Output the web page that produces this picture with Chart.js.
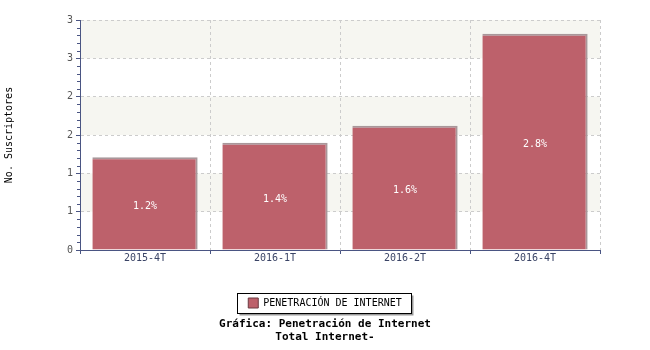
<!DOCTYPE html>
<html>
<head>
<meta charset="utf-8">
<script src="https://cdn.jsdelivr.net/npm/chart.js@4/dist/chart.umd.min.js"></script>
<style>
  html, body { margin: 0; padding: 0; background: #fff; }
  #wrap { width: 650px; height: 350px; position: relative; }
</style>
</head>
<body>
<div id="wrap"><canvas id="c" width="650" height="350"></canvas></div>
<script>
const categories = ['2015-4T', '2016-1T', '2016-2T', '2016-4T'];
const seriesName = 'PENETRACIÓN DE INTERNET';
const seriesValues = [1.21, 1.40, 1.62, 2.82];
const barLabels = ['1.2%', '1.4%', '1.6%', '2.8%'];
const yTickLabels = ['0', '1', '1', '2', '2', '3', '3'];
const yAxisTitle = 'No. Suscriptores';
const chartTitle = ['Gráfica: Penetración de Internet', 'Total Internet-'];

const MONO = '"DejaVu Sans Mono", "Liberation Mono", monospace';
const AXIS = '#4a5583';
const BAR = '#bd616b';

const decor = {
  id: 'decor',
  beforeDraw(chart) {
    const ctx = chart.ctx, a = chart.chartArea, y = chart.scales.y;
    ctx.save();
    ctx.fillStyle = '#f6f6f1';
    for (let v = 0.5; v < 3; v += 1) {
      const t = y.getPixelForValue(v + 0.5), b = y.getPixelForValue(v);
      ctx.fillRect(a.left, t, a.right - a.left, b - t);
    }
    const hb = chart.legend && chart.legend.legendHitBoxes && chart.legend.legendHitBoxes[0];
    if (hb) {
      const x = Math.round(hb.left - 11) + 0.5, yy = Math.round(hb.top - 5) + 0.5;
      const w = Math.round(hb.width + 21), h = Math.round(hb.height + 10);
      ctx.fillStyle = '#9a9a9a';
      ctx.fillRect(x + 2, yy + 2, w, h);
      ctx.fillStyle = '#ffffff';
      ctx.fillRect(x, yy, w, h);
      ctx.strokeStyle = '#000000';
      ctx.lineWidth = 1;
      ctx.strokeRect(x, yy, w, h);
    }
    ctx.restore();
  },
  afterDatasetsDraw(chart) {
    const ctx = chart.ctx;
    const meta = chart.getDatasetMeta(0);
    ctx.save();
    ctx.fillStyle = '#ffffff';
    ctx.font = '10px ' + MONO;
    ctx.textAlign = 'center';
    ctx.textBaseline = 'middle';
    meta.data.forEach((bar, i) => {
      const p = bar.getProps(['x', 'y', 'base'], true);
      ctx.fillText(barLabels[i], p.x, (p.y + p.base) / 2 + 3);
    });
    ctx.restore();
  },
  afterDraw(chart) {
    const ctx = chart.ctx, y = chart.scales.y, a = chart.chartArea;
    ctx.save();
    ctx.strokeStyle = AXIS;
    ctx.lineWidth = 1;
    ctx.beginPath();
    for (let k = 0; k <= 30; k++) {
      if (k % 5 === 0) continue;
      const py = Math.round(y.getPixelForValue(k / 10)) + 0.5;
      ctx.moveTo(a.left - 3, py);
      ctx.lineTo(a.left, py);
    }
    ctx.stroke();
    ctx.restore();
  }
};

new Chart(document.getElementById('c'), {
  type: 'bar',
  data: {
    labels: categories,
    datasets: [{
      label: seriesName,
      data: seriesValues,
      backgroundColor: BAR,
      borderColor: '#a8979a',
      borderWidth: { top: 2, right: 2, bottom: 0, left: 0 },
      borderSkipped: false,
      barPercentage: 0.81,
      categoryPercentage: 1.0
    }]
  },
  options: {
    responsive: false,
    animation: false,
    devicePixelRatio: 1,
    layout: { padding: { top: 20, right: 0, bottom: 0, left: 0 } },
    plugins: {
      tooltip: { enabled: false },
      legend: {
        display: true,
        position: 'bottom',
        labels: {
          font: { family: MONO, size: 10 },
          color: '#000000',
          boxWidth: 10,
          boxHeight: 10,
          padding: 10,
          generateLabels(chart) {
            const ds = chart.data.datasets[0];
            return [{ text: ds.label, fillStyle: BAR, strokeStyle: '#6a3a40', lineWidth: 1, datasetIndex: 0 }];
          }
        }
      },
      title: {
        display: true,
        position: 'bottom',
        text: chartTitle,
        color: '#000000',
        font: { family: MONO, size: 11, weight: 'bold', lineHeight: '13px' },
        padding: { top: 0, bottom: 6 }
      }
    },
    scales: {
      x: {
        afterFit(s) { s.height = 38; },
        grid: {
          display: true,
          offset: true,
          color: '#cccccc',
          tickColor: AXIS,
          tickLength: 4,
          tickBorderDash: []
        },
        border: { display: true, color: AXIS, width: 1, dash: [3, 3] },
        ticks: {
          font: { family: MONO, size: 10 },
          color: '#3a4466',
          padding: -2,
          maxRotation: 0
        }
      },
      y: {
        min: 0,
        max: 3,
        afterFit(s) { s.width = 80; },
        grid: {
          color: '#cccccc',
          tickColor: AXIS,
          tickLength: 4,
          tickBorderDash: []
        },
        border: { display: true, color: AXIS, width: 1, dash: [3, 3] },
        ticks: {
          stepSize: 0.5,
          font: { family: MONO, size: 10 },
          color: '#555555',
          padding: 3,
          callback(value, index) { return yTickLabels[index]; }
        },
        title: {
          display: true,
          text: yAxisTitle,
          color: '#000000',
          font: { family: MONO, size: 10 },
          padding: { top: 3, bottom: 0 }
        }
      },
      yr: {
        position: 'right',
        display: true,
        afterFit(s) { s.width = 50; },
        grid: { display: false },
        border: { display: false },
        ticks: { display: false }
      }
    }
  },
  plugins: [decor]
});
</script>
</body>
</html>
